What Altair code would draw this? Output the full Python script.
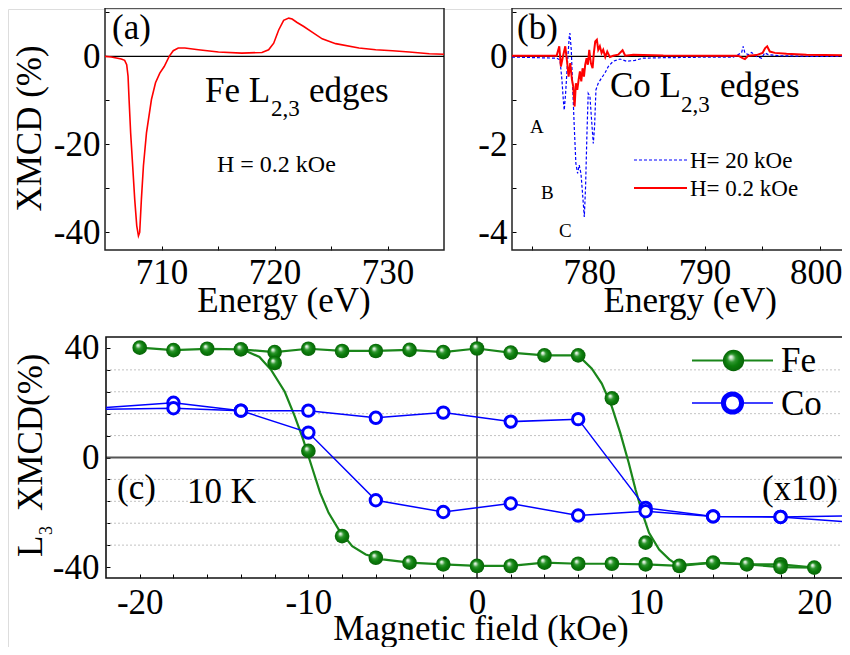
import altair as alt
import pandas as pd

FONT = "Liberation Serif"
BIG = 35

# ---------------- data ----------------
# (a) Fe L2,3 XMCD spectrum, H = 0.2 kOe
fe_energy = [705.0, 705.56, 706.44, 706.74, 706.92, 707.04, 707.13, 707.27, 707.45, 707.63,
             707.81, 707.96, 708.07, 708.22, 708.40, 708.67, 709.11, 709.47, 709.85, 710.24,
             710.68, 711.04, 711.48, 712.07, 713.26, 715.04, 717.11, 718.89, 719.48, 719.93,
             720.37, 720.81, 721.26, 721.56, 722.0, 722.59, 723.33, 724.22, 725.41, 727.48,
             728.96, 730.44, 731.93, 733.70, 735.0]
fe_xmcd = [0.0, -0.15, -0.6, -0.9, -1.9, -4.5, -9.8, -17.4, -24.9, -32.5,
           -38.5, -40.8, -40.0, -32.5, -24.9, -17.4, -9.8, -6.0, -3.8, -2.3,
           0.0, 1.3, 1.9, 1.9, 1.5, 1.0, 0.75, 0.9, 1.5, 3.0,
           6.0, 8.2, 8.7, 8.5, 7.7, 6.8, 5.5, 4.0, 2.9, 1.9,
           1.5, 1.3, 1.0, 0.6, 0.5]

# (b) Co L2,3 XMCD spectra
co_energy_20 = [773.3, 777.17, 777.46, 777.63, 777.75, 777.83, 777.95, 778.09, 778.27, 778.32,
                778.44, 778.55, 778.70, 778.84, 778.99, 779.13, 779.28, 779.42, 779.57, 779.68,
                779.80, 779.91, 780.06, 780.20, 780.35, 780.46, 780.58, 780.78, 781.07, 781.36,
                781.65, 782.08, 782.66, 783.24, 783.96, 784.68, 786.42, 789.31, 792.49, 793.21,
                793.35, 793.50, 793.79, 794.08, 794.51, 794.94, 795.23, 795.52, 796.53, 799.42,
                803.8]
co_xmcd_20 = [-0.015, -0.04, -0.08, -0.53, -0.99, -1.22, -0.84, -0.23, 0.46, 0.53,
              0.15, -0.61, -1.6, -2.43, -2.66, -2.47, -2.66, -3.12, -3.65, -2.97,
              -1.75, -0.84, -0.91, -1.44, -1.98, -1.6, -0.76, -0.61, -0.49, -0.38,
              -0.23, -0.11, -0.06, -0.11, -0.09, -0.04, -0.03, -0.02, -0.015, 0.08,
              0.23, 0.08, 0.04, 0.09, 0.0, -0.04, 0.08, 0.04, 0.015, 0.0,
              0.0]
co_energy_02 = [773.3, 777.17, 777.40, 777.54, 777.72, 777.92, 778.09, 778.21, 778.35, 778.50,
                778.61, 778.73, 778.84, 778.96, 779.08, 779.19, 779.31, 779.42, 779.54, 779.65,
                779.77, 779.88, 780.00, 780.14, 780.29, 780.40, 780.52, 780.66, 780.78, 780.92,
                781.07, 781.21, 781.39, 781.56, 781.79, 782.08, 782.51, 782.89, 783.12, 783.82,
                786.42, 790.75, 792.92, 793.30, 793.50, 793.79, 794.51, 795.03, 795.26, 795.43,
                795.66, 796.10, 797.11, 798.84, 803.8]
co_xmcd_02 = [0.015, 0.015, 0.23, -0.23, 0.0, 0.23, -0.15, -0.46, -0.15, -0.53,
              -0.68, -1.14, -0.61, -0.76, -0.53, -0.34, -0.57, -0.27, -0.46, -0.19,
              -0.04, -0.19, 0.15, -0.15, -0.27, 0.08, 0.34, 0.38, 0.15, 0.23,
              0.08, 0.15, -0.015, 0.11, -0.015, 0.015, 0.04, 0.14, 0.015, 0.04,
              0.02, 0.015, 0.015, -0.04, -0.06, 0.015, 0.03, 0.08, 0.19, 0.23,
              0.11, 0.08, 0.06, 0.04, 0.015]

# (c) L3 XMCD hysteresis at 10 K
fe_field = [-20, -18, -16, -14, -12, -12, -10, -8, -6, -4, -2, 0, 2, 4, 6, 8,
            -10, -8, -6, -4, -2, 0, 2, 4, 6, 8, 10, 10, 12, 14, 16, 18, 18, 20]
fe_l3 = [40.1, 39.2, 39.7, 39.5, 38.5, 34.5, 39.7, 38.9, 38.9, 39.3, 38.5, 39.8, 38.3, 37.3, 37.3, 21.6,
         2.4, -28.7, -36.6, -38.4, -39.0, -39.6, -39.6, -38.4, -38.8, -38.8, -39.0, -31.1, -39.6, -38.4,
         -39.0, -39.0, -40.0, -40.2]
fe_fit1_field = [-20, -18, -16, -14, -13.7, -12.9, -12.2, -11.4, -10.8, -10.3,
                 -9.8, -9.3, -8.8, -8.2, -7.4, -6.6, -5.6, -4, -2, 0,
                 2, 4, 6, 8, 10, 12, 14, 16, 18, 20]
fe_fit1_l3 = [40.1, 39.2, 39.7, 39.5, 38.9, 36.7, 31.9, 24.0, 14.9, 6.4,
              -3.3, -12.9, -20.2, -26.3, -32.4, -35.4, -37.2, -38.4, -39.0, -39.6,
              -39.6, -38.4, -38.8, -38.8, -39.0, -39.6, -38.4, -39.0, -39.0, -40.2]
fe_fit2_field = [-14, -12, -10, -8, -6, -4, -2, 0, 2, 4, 6,
                 6.2, 6.8, 7.4, 8.0, 8.5, 9.0, 9.4, 9.8, 10.2, 10.8, 11.4, 11.9,
                 14, 16, 18, 20]
fe_fit2_l3 = [39.5, 38.5, 39.7, 38.9, 38.9, 39.3, 38.5, 39.8, 38.3, 37.3, 37.3,
              36.1, 32.5, 27.0, 18.5, 8.9, -2.0, -11.7, -20.2, -27.5, -33.6, -37.2, -39.3,
              -38.4, -39.0, -40.0, -40.2]
co_field_a = [-22, -18, -14, -10, -6, -2, 2, 6, 10, 14, 18, 22]
co_l3_a = [18.3, 20.0, 17.1, 17.1, 14.5, 16.4, 13.1, 14.0, -18.4, -21.5, -21.7, -21.3]
co_field_b = [-22, -18, -14, -10, -6, -2, 2, 6, 10, 14, 18, 22]
co_l3_b = [17.6, 18.0, 17.1, 9.1, -15.6, -19.9, -16.8, -21.2, -19.6, -21.5, -21.7, -23.5]
grid_vals = [-32, -24, -16, -8, 8, 16, 24, 32]

# ---------------- layout ----------------
W, H = 834, 638
PAD = {"left": 0, "top": 1, "right": 0, "bottom": 0}
T = 4  # inward tick length


def px(x):
    return x - 8 - PAD["left"]


def py(y):
    return y - 8 - PAD["top"]


def lin(domain, rng):
    return alt.Scale(domain=domain, range=rng, nice=False, zero=False)


def axis(orient, offset, values, every, pad, title=None, **kw):
    d = dict(orient=orient, offset=offset, values=values,
             labelExpr=f"datum.value % {every} == 0 ? '' + datum.value : ''",
             tickSize=T, tickWidth=1, tickColor="black", domain=False, grid=False,
             labelFont=FONT, labelFontSize=BIG, labelColor="black", labelPadding=pad,
             labelOverlap=False, labelFlush=False, title=title)
    if orient == "bottom":
        d["labelBaseline"] = "alphabetic"
    if title:
        d.update(titleFont=FONT, titleFontSize=BIG, titleFontWeight="normal",
                 titleColor="black", titleAlign="center", titleBaseline="alphabetic")
    d.update(kw)
    return alt.Axis(**d)


A_XD, A_YD = [705, 735], [-44, 11]
B_XD, B_YD = [773.3, 803.3], [-4.4, 1.1]
C_XD, C_YD = [-22, 22], [-44, 44]

P = {
    "a": dict(
        xs=lin(A_XD, [px(105), px(444)]), ys=lin(A_YD, [py(250), py(8)]),
        xa=axis("bottom", py(250) - T - H, [710, 715, 720, 725, 730], 10, 33, "Energy (eV)",
                titleX=px(283.5), titleY=311 - (250 - T)),
        ya=axis("left", -(px(105) + T), [-40, -30, -20, -10, 0, 10], 20, 5, "XMCD (%)",
                titleX=px(40) - (px(105) + T), titleY=py(128), titleAngle=270)),
    "b": dict(
        xs=lin(B_XD, [px(512), px(857.9)]), ys=lin(B_YD, [py(250), py(8)]),
        xa=axis("bottom", py(250) - T - H, [775, 780, 785, 790, 795, 800], 10, 33, "Energy (eV)",
                titleX=px(689.7), titleY=311 - (250 - T),
                labelOffset={"condition": {"test": "datum.value == 800", "value": -4}, "value": 0}),
        ya=axis("left", -(px(512) + T), [-4, -3, -2, -1, 0, 1], 2, 5)),
    "c": dict(
        xs=lin(C_XD, [px(106), px(848)]), ys=lin(C_YD, [py(578), py(337)]),
        xa=axis("bottom", py(578) - T - H, list(range(-20, 21, 2)), 10, 35, "Magnetic field (kOe)",
                titleX=px(480.5), titleY=639 - (578 - T)),
        ya=axis("left", -(px(106) + T), list(range(-40, 41, 8)), 40, 7)),
}


def X(p, field=None, datum=None):
    d = P[p]
    if datum is not None:
        return alt.XDatum(datum, type="quantitative", scale=d["xs"], axis=d["xa"])
    return alt.X(field, type="quantitative", scale=d["xs"], axis=d["xa"])


def Y(p, field=None, datum=None):
    d = P[p]
    if datum is not None:
        return alt.YDatum(datum, type="quantitative", scale=d["ys"], axis=d["ya"])
    return alt.Y(field, type="quantitative", scale=d["ys"], axis=d["ya"])


one = pd.DataFrame({"k": [0]})


def frame(p, xd, yd, color="#222", width=1.5):
    return alt.Chart(one).mark_rect(fill="transparent", stroke=color, strokeWidth=width).encode(
        x=X(p, datum=xd[0]), x2=alt.X2Datum(xd[1]), y=Y(p, datum=yd[0]), y2=alt.Y2Datum(yd[1]))


def txt(s, x, y, size=BIG, angle=0):
    return alt.Chart(one).mark_text(text=s, font=FONT, fontSize=size, align="left",
                                    baseline="alphabetic", color="black", angle=angle).encode(
        x=alt.value(px(x)), y=alt.value(py(y)))


def seg(x1, x2, y, color, width, dash=None):
    kw = dict(color=color, strokeWidth=width)
    if dash:
        kw["strokeDash"] = dash
    return alt.Chart(one).mark_rule(**kw).encode(
        x=alt.value(px(x1)), x2=alt.value(px(x2)), y=alt.value(py(y)))


GREEN = "#1a861a"
sphere = alt.RadialGradient(
    gradient="radial", x1=0.36, y1=0.32, r1=0.0, x2=0.5, y2=0.5, r2=0.5,
    stops=[alt.GradientStop(offset=0.0, color="#ffffff"),
           alt.GradientStop(offset=0.14, color="#cfe9cf"),
           alt.GradientStop(offset=0.38, color="#2f962f"),
           alt.GradientStop(offset=0.65, color="#0b7d0b"),
           alt.GradientStop(offset=1.0, color="#086408")])

# ---------------- panel (a) ----------------
dfa = pd.DataFrame({"E": fe_energy, "v": fe_xmcd})
panel_a = alt.layer(
    frame("a", A_XD, A_YD),
    alt.Chart(one).mark_rule(color="black", strokeWidth=1.2).encode(
        x=X("a", datum=A_XD[0]), x2=alt.X2Datum(A_XD[1]), y=Y("a", datum=0)),
    alt.Chart(dfa).mark_line(color="#ff0000", strokeWidth=1.6).encode(x=X("a", "E"), y=Y("a", "v")),
    txt("(a)", 112, 39),
    txt("Fe L", 205, 102), txt("2,3", 271, 116, 23), txt("edges", 309, 102),
    txt("H = 0.2 kOe", 217, 172, 24),
)

# ---------------- panel (b) ----------------
dfb20 = pd.DataFrame({"E": co_energy_20, "v": co_xmcd_20})
dfb02 = pd.DataFrame({"E": co_energy_02, "v": co_xmcd_02})
panel_b = alt.layer(
    frame("b", B_XD, B_YD),
    alt.Chart(one).mark_rule(color="black", strokeWidth=1.2).encode(
        x=X("b", datum=B_XD[0]), x2=alt.X2Datum(B_XD[1]), y=Y("b", datum=0)),
    alt.Chart(dfb20).mark_line(color="#0000ff", strokeWidth=1.2, strokeDash=[3, 2]).encode(
        x=X("b", "E"), y=Y("b", "v")),
    alt.Chart(dfb02).mark_line(color="#ff0000", strokeWidth=2).encode(x=X("b", "E"), y=Y("b", "v")),
    txt("(b)", 517, 39),
    txt("Co L", 610, 97), txt("2,3", 681, 112, 23), txt("edges", 720, 97),
    txt("A", 530, 133, 19), txt("B", 541, 199, 19), txt("C", 559, 237, 19),
    seg(634, 687, 160, "#0000ff", 1.2, [3, 2]), txt("H= 20 kOe", 690, 168, 23),
    seg(634, 687, 188, "#ff0000", 2), txt("H= 0.2 kOe", 690, 196, 23),
)

# ---------------- panel (c) ----------------
df_grid = pd.DataFrame({"g": grid_vals})
df_fe = pd.DataFrame({"h": fe_field, "v": fe_l3})
df_fit1 = pd.DataFrame({"h": fe_fit1_field, "v": fe_fit1_l3})
df_fit2 = pd.DataFrame({"h": fe_fit2_field, "v": fe_fit2_l3})
df_coa = pd.DataFrame({"h": co_field_a, "v": co_l3_a})
df_cob = pd.DataFrame({"h": co_field_b, "v": co_l3_b})
df_co_pts = pd.concat([df_coa, df_cob])
df_co_pts = df_co_pts[df_co_pts["h"].abs() < 22]

co_point = dict(shape="circle", fill="white", stroke="#0000ff", opacity=1)
panel_c = alt.layer(
    alt.Chart(df_grid).mark_rule(color="#b4b4b4", strokeWidth=0.8, strokeDash=[2, 2]).encode(
        y=Y("c", "g"), x=X("c", datum=C_XD[0]), x2=alt.X2Datum(C_XD[1])),
    alt.Chart(one).mark_rule(color="#555555", strokeWidth=2).encode(
        x=X("c", datum=C_XD[0]), x2=alt.X2Datum(C_XD[1]), y=Y("c", datum=0)),
    alt.Chart(one).mark_rule(color="#555555", strokeWidth=2).encode(
        x=X("c", datum=0), y=Y("c", datum=C_YD[0]), y2=alt.Y2Datum(C_YD[1])),
    frame("c", C_XD, C_YD, "#111", 1.6),
    alt.Chart(df_fit1).mark_line(color=GREEN, strokeWidth=2.2).encode(x=X("c", "h"), y=Y("c", "v")),
    alt.Chart(df_fit2).mark_line(color=GREEN, strokeWidth=2.2).encode(x=X("c", "h"), y=Y("c", "v")),
    alt.Chart(df_coa).mark_line(color="#0000ff", strokeWidth=1.5).encode(x=X("c", "h"), y=Y("c", "v")),
    alt.Chart(df_cob).mark_line(color="#0000ff", strokeWidth=1.5).encode(x=X("c", "h"), y=Y("c", "v")),
    alt.Chart(df_co_pts).mark_point(size=130, strokeWidth=3, **co_point).encode(
        x=X("c", "h"), y=Y("c", "v")),
    alt.Chart(df_fe).mark_point(shape="circle", filled=True, fill=sphere, size=215, opacity=1).encode(
        x=X("c", "h"), y=Y("c", "v")),
    txt("(c)", 117, 499), txt("10 K", 187, 503), txt("(x10)", 762, 500),
    # legend
    seg(692, 773, 360.5, GREEN, 2),
    alt.Chart(one).mark_point(shape="circle", filled=True, fill=sphere, size=452, opacity=1).encode(
        x=alt.value(px(733.5)), y=alt.value(py(360.5))),
    txt("Fe", 781, 372),
    seg(692, 773, 403, "#0000ff", 1.4),
    alt.Chart(one).mark_point(size=330, strokeWidth=5, **co_point).encode(
        x=alt.value(px(732.5)), y=alt.value(py(403))),
    txt("Co", 781, 415),
    # y title with subscript
    txt("L", 42, 557, angle=270), txt("3", 52, 535, 18, angle=270), txt("XMCD(%)", 42, 511, angle=270),
)

chart = alt.layer(panel_a, panel_b, panel_c).resolve_scale(
    x="independent", y="independent"
).properties(
    width=W, height=H, autosize=alt.AutoSizeParams(type="none"), padding=PAD
).configure_view(strokeWidth=0, stroke="transparent").configure(background="white")

chart.save("out.html", embed_options={"renderer": "svg", "actions": False})
